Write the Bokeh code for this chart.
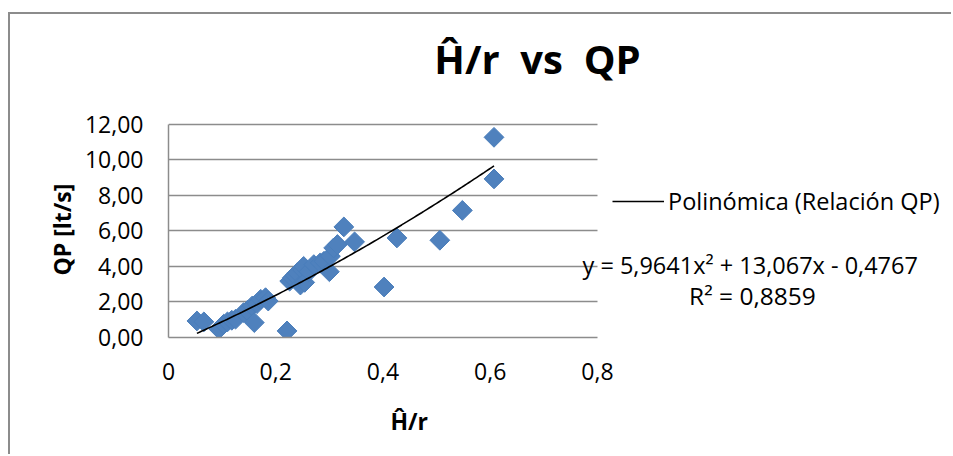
import numpy as np
from bokeh.plotting import figure
from bokeh.models import Range1d, FixedTicker, Label, Legend, LegendItem, Title
from bokeh.embed import file_html
from bokeh.resources import INLINE

# ---------------- data ----------------
hr = [0.053, 0.066, 0.094, 0.103, 0.110, 0.118, 0.125, 0.140, 0.147, 0.156,
      0.160, 0.165, 0.172, 0.181, 0.186, 0.221, 0.226, 0.231, 0.236, 0.240,
      0.246, 0.250, 0.252, 0.254, 0.262, 0.271, 0.283, 0.290, 0.300, 0.302,
      0.308, 0.315, 0.327, 0.347, 0.402, 0.426, 0.506, 0.548, 0.607, 0.607]
qp = [0.93, 0.88, 0.47, 0.75, 0.88, 0.97, 1.03, 1.40, 1.52, 1.77,
      0.84, 1.90, 2.15, 2.24, 2.05, 0.37, 3.17, 3.36, 3.50, 3.64,
      2.95, 3.80, 4.00, 3.10, 3.70, 4.10, 4.20, 4.29, 3.70, 4.57,
      5.04, 5.23, 6.22, 5.38, 2.84, 5.60, 5.47, 7.15, 11.26, 8.92]

# polynomial trendline coefficients shown in the chart
trend_coef = [5.9641, 13.067, -0.4767]
trend_label = "Polinómica (Relación QP)"
eq_text = "y = 5,9641x² + 13,067x - 0,4767"
r2_text = "R² = 0,8859"

x_ticks = [0, 0.2, 0.4, 0.6, 0.8]
x_tick_labels = ["0", "0,2", "0,4", "0,6", "0,8"]
y_ticks = [0, 2, 4, 6, 8, 10, 12]
y_tick_labels = ["0,00", "2,00", "4,00", "6,00", "8,00", "10,00", "12,00"]

title_text = "Ĥ/r\u00a0 vs\u00a0 QP"
x_title = "Ĥ/r"
y_title = "QP [lt/s]"

# ---------------- layout ----------------
FONT = "Open Sans"
GRID = "#8C8C8C"
OX, OY = 10, 14              # figure position on the page (inside the chart border)
W, H = 943, 442
# plot area in page pixels: x 0 -> PL, x 0.8 -> PR, y 0 -> PB, y 12 -> PT
PL, PR, PT, PB = 168, 597, 124, 338
XMAX, YMAX = 0.8, 12.0
FRAME_TOP, FRAME_RIGHT = OY + 2, OX + W   # page pixels

def dx(px):
    return (px - PL) / (PR - PL) * XMAX

def dy(py):
    return (PB - py) / (PB - PT) * YMAX

p = figure(width=W, height=H, output_backend="svg", toolbar_location=None,
           x_range=Range1d(0, dx(FRAME_RIGHT)), y_range=Range1d(0, dy(FRAME_TOP)),
           min_border_left=PL - OX, min_border_right=OX + W - FRAME_RIGHT,
           min_border_top=FRAME_TOP - OY, min_border_bottom=OY + H - PB)
p.border_fill_color = "white"
p.background_fill_color = "white"
p.outline_line_color = None
p.styles = {
    "margin-left": f"{OX}px",
    "margin-top": f"{OY}px",
    "overflow": "hidden",
    "box-shadow": f"-2px -2px 0px 0px {GRID}",
}

# axes
p.xaxis.ticker = FixedTicker(ticks=x_ticks)
p.xaxis.major_label_overrides = dict(zip(x_ticks, x_tick_labels))
p.xaxis.bounds = (0, XMAX)
p.yaxis.ticker = FixedTicker(ticks=y_ticks)
p.yaxis.major_label_overrides = dict(zip(y_ticks, y_tick_labels))
p.yaxis.bounds = (0, YMAX)
for ax in (p.xaxis, p.yaxis):
    ax.axis_line_color = GRID
    ax.axis_line_width = 1.5
    ax.major_tick_line_color = None
    ax.minor_tick_line_color = None
    ax.major_tick_out = 0
    ax.major_tick_in = 0
    ax.major_label_text_font = FONT
    ax.major_label_text_font_size = "23px"
    ax.major_label_text_color = "black"
p.yaxis.major_label_standoff = 25
p.xaxis.major_label_standoff = 25
p.xgrid.grid_line_color = None
p.ygrid.grid_line_color = GRID
p.ygrid.grid_line_width = 1.5
p.ygrid.bounds = (0, YMAX)
try:
    p.ygrid.cross_bounds = (0, XMAX)
except AttributeError:
    p.ygrid.grid_line_color = None
    p.segment(x0=[0] * len(y_ticks), x1=[XMAX] * len(y_ticks), y0=y_ticks, y1=y_ticks,
              line_color=GRID, line_width=1.5)

# axis titles (side panels)
yt = Title(text=y_title, align="left", offset=62,
           text_font=FONT, text_font_size="23px", text_font_style="bold",
           text_color="black", standoff=8)
p.add_layout(yt, "left")
xt = Title(text=x_title, align="left", offset=222,
           text_font=FONT, text_font_size="23px", text_font_style="bold",
           text_color="black", standoff=40)
p.add_layout(xt, "below")

# scatter
p.scatter(hr, qp, marker="square", angle=np.pi / 4, size=14,
          fill_color="#4F81BD", line_color="#4A7EBB", line_width=1)

# trendline
tx = np.linspace(min(hr), max(hr), 120)
ty = np.polyval(trend_coef, tx)
tr = p.line(tx, ty, line_color="black", line_width=1.6)

legend = Legend(items=[LegendItem(label=trend_label, renderers=[tr])],
                location=(444, 120), orientation="vertical")
legend.glyph_width = 52
legend.glyph_height = 20
legend.label_height = 20
legend.label_standoff = 4
legend.padding = 0
legend.margin = 0
legend.border_line_color = None
legend.background_fill_alpha = 0
legend.label_text_font = FONT
legend.label_text_font_size = "23.5px"
legend.label_text_color = "black"
p.add_layout(legend, "center")

def label(text, px, py, size="23.5px", align="left", bold=False):
    lab = Label(x=dx(px), y=dy(py), text=text, text_font=FONT,
                text_font_size=size, text_align=align, text_baseline="middle",
                text_font_style="bold" if bold else "normal",
                text_color="black")
    p.add_layout(lab)

label(title_text, 537, 58, size="40px", align="center", bold=True)
label(eq_text, 582, 265)
label(r2_text, 752, 296, size="24.5px", align="center")

open("out.html", "w").write(file_html(p, INLINE))
